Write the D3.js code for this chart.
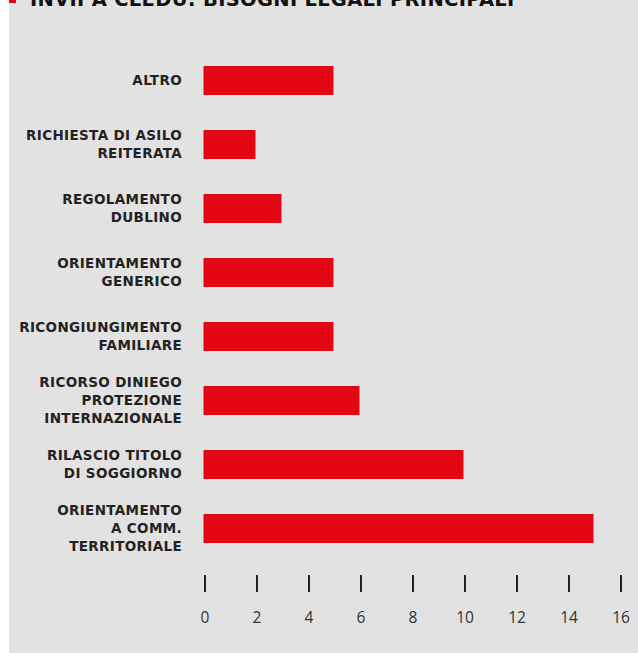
<!DOCTYPE html>
<html>
<head>
<meta charset="utf-8">
<script src="https://cdn.jsdelivr.net/npm/d3@7"></script>
<style>
  html, body { margin: 0; padding: 0; background: #ffffff; }
  svg { display: block; }
</style>
</head>
<body>
<svg id="chart" width="638" height="653"></svg>
<script>
// Legal needs of people referred to CLEDU (number of cases)
const title = "INVII A CLEDU: BISOGNI LEGALI PRINCIPALI";
const categories = [
  ["ALTRO"],
  ["RICHIESTA DI ASILO", "REITERATA"],
  ["REGOLAMENTO", "DUBLINO"],
  ["ORIENTAMENTO", "GENERICO"],
  ["RICONGIUNGIMENTO", "FAMILIARE"],
  ["RICORSO DINIEGO", "PROTEZIONE", "INTERNAZIONALE"],
  ["RILASCIO TITOLO", "DI SOGGIORNO"],
  ["ORIENTAMENTO", "A COMM.", "TERRITORIALE"]
];
const values = [5, 2, 3, 5, 5, 6, 10, 15];
const tickValues = [0, 2, 4, 6, 8, 10, 12, 14, 16];

const W = 638, H = 653;
const RED = "#e30613", INK = "#222222", PANEL = "#e2e2e2";

const svg = d3.select("#chart");

// grey panel
svg.append("rect").attr("x", 9).attr("y", 0).attr("width", W - 9).attr("height", H).attr("fill", PANEL);

// title (runs off the top edge)
svg.append("rect").attr("x", 9).attr("y", -5).attr("width", 7).attr("height", 8).attr("fill", RED);
svg.append("text")
  .attr("x", 30).attr("y", 6)
  .attr("font-family", "'DejaVu Sans', sans-serif")
  .attr("font-weight", 700)
  .attr("font-size", 19.5)
  .attr("letter-spacing", 0.3)
  .attr("fill", "#111")
  .text(title);

const keys = categories.map((c, i) => i);
const x = d3.scaleLinear().domain([0, 16]).range([203.5, 619.5]);
const y = d3.scaleBand().domain(keys).range([48.5, 560.5])
  .paddingInner(35 / 64).paddingOuter(35 / 128);

// bars
svg.append("g").selectAll("rect").data(values).join("rect")
  .attr("x", x(0))
  .attr("y", (d, i) => y(i))
  .attr("width", d => x(d) - x(0))
  .attr("height", y.bandwidth())
  .attr("fill", RED);

// category labels, right-aligned, centred on each bar
const lineH = 18;
const lab = svg.append("g")
  .attr("font-family", "'DejaVu Sans', sans-serif")
  .attr("font-weight", 700)
  .attr("font-size", 13.5)
  .attr("letter-spacing", 0.35)
  .attr("fill", INK)
  .attr("text-anchor", "end");
categories.forEach((lines, i) => {
  const cy = y(i) + y.bandwidth() / 2;
  const t = lab.append("text").attr("x", 182);
  lines.forEach((ln, j) => {
    t.append("tspan")
      .attr("x", 182)
      .attr("y", cy + (j - (lines.length - 1) / 2) * lineH)
      .attr("dy", "0.36em")
      .text(ln);
  });
});

// value axis: short ticks with labels below, no domain line
const axis = d3.axisBottom(x).tickValues(tickValues).tickSize(17).tickPadding(20).tickFormat(d3.format("d"));
const gx = svg.append("g").attr("transform", "translate(1,575)").call(axis);
gx.select(".domain").remove();
gx.selectAll(".tick line").attr("stroke", INK).attr("stroke-width", 2);
gx.selectAll(".tick text")
  .attr("fill", "#333")
  .attr("font-family", "'Open Sans', sans-serif")
  .attr("font-size", 15.5);
</script>
</body>
</html>
